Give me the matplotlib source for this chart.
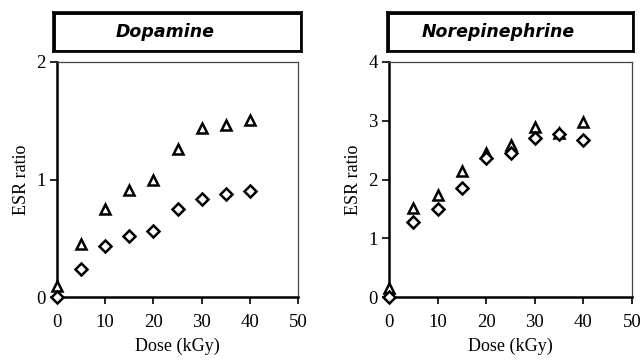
import numpy as np
import matplotlib.pyplot as plt
from matplotlib.patches import Rectangle

dose = [0, 5, 10, 15, 20, 25, 30, 35, 40]

# Dopamine
dop_tri = [0.09, 0.45, 0.75, 0.91, 1.00, 1.26, 1.44, 1.46, 1.51]
dop_dia = [0.00, 0.24, 0.43, 0.52, 0.56, 0.75, 0.83, 0.88, 0.90]

# Norepinephrine
nor_tri = [0.15, 1.52, 1.73, 2.14, 2.45, 2.59, 2.90, 2.80, 2.98]
nor_dia = [0.00, 1.27, 1.49, 1.85, 2.36, 2.45, 2.71, 2.77, 2.68]

panels = [
    ('Dopamine', dop_tri, dop_dia, 2, [0, 1, 2]),
    ('Norepinephrine', nor_tri, nor_dia, 4, [0, 1, 2, 3, 4]),
]

plt.rcParams['font.family'] = ['Liberation Serif', 'DejaVu Serif']

fig = plt.figure(figsize=(6.43, 3.62), dpi=100)
W, H = 643, 362
# axes boxes in pixels: left, right, top, bottom
boxes = [(57, 298, 62, 297), (389, 632, 62, 297)]
titles_px = [(53, 302, 12, 52), (387, 634, 12, 52)]

for (name, tri, dia, ymax, yt), (l, r, t, b), (tl, tr, tt, tb) in zip(panels, boxes, titles_px):
    ax = fig.add_axes([l / W, 1 - b / H, (r - l) / W, (b - t) / H])
    ax.plot(dose, tri, linestyle='none', marker='^', markersize=7.5,
            markerfacecolor='white', markeredgecolor='black', markeredgewidth=1.8,
            clip_on=False, zorder=3)
    ax.plot(dose, dia, linestyle='none', marker='D', markersize=6.5,
            markerfacecolor='white', markeredgecolor='black', markeredgewidth=1.8,
            clip_on=False, zorder=4)
    ax.set_xlim(0, 50)
    ax.set_ylim(0, ymax)
    ax.set_xticks([0, 10, 20, 30, 40, 50])
    ax.set_yticks(yt)
    ax.tick_params(direction='out', length=5, width=1.2, labelsize=13.5)
    ax.tick_params(axis='x', pad=7)
    ax.tick_params(axis='y', pad=3)
    for s in ['left', 'bottom']:
        ax.spines[s].set_linewidth(1.8)
    for s in ['top', 'right']:
        ax.spines[s].set_linewidth(0.9)
        ax.spines[s].set_color('#444444')
    ax.set_xlabel('Dose (kGy)', fontsize=13, labelpad=5)
    ax.set_ylabel('ESR ratio', fontsize=13, labelpad=5)

    # title box
    tax = fig.add_axes([tl / W, 1 - tb / H, (tr - tl) / W, (tb - tt) / H])
    tax.set_xticks([])
    tax.set_yticks([])
    for s in tax.spines.values():
        s.set_linewidth(1.2)
    tax.add_patch(Rectangle((0, 0), 1, 1, transform=tax.transAxes, fill=False,
                            linewidth=3.5, edgecolor='black'))
    tax.text(0.45, 0.5, name, transform=tax.transAxes, ha='center', va='center',
             fontsize=12.5, fontweight='bold', fontstyle='italic',
             family=['DejaVu Sans'])

fig.savefig('out.png', dpi=100)
